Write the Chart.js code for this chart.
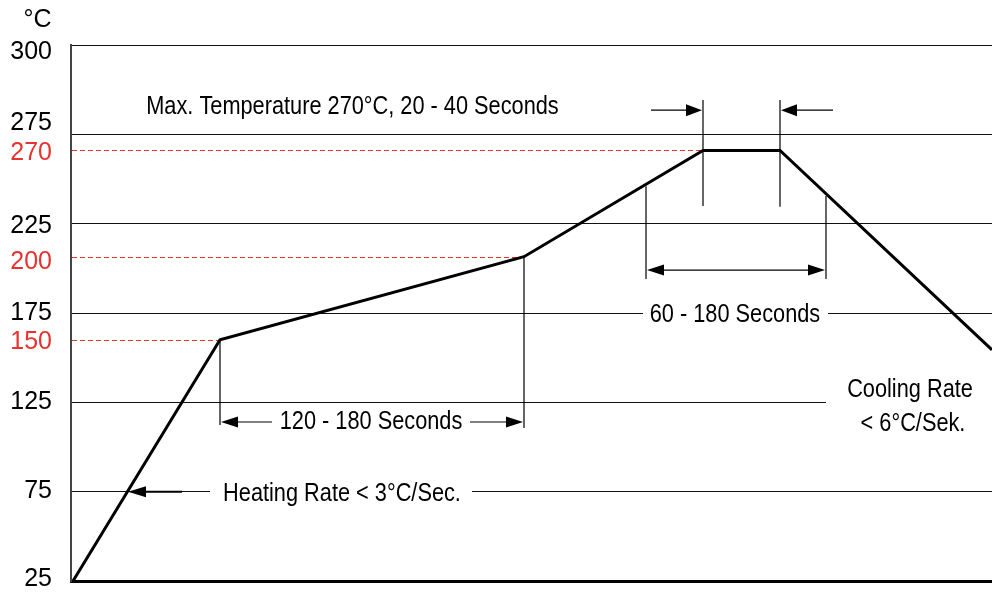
<!DOCTYPE html>
<html>
<head>
<meta charset="utf-8">
<script src="https://cdn.jsdelivr.net/npm/chart.js@4.4.1/dist/chart.umd.min.js"></script>
<style>
  html, body { margin: 0; padding: 0; background: #fff; }
  #wrap { width: 992px; height: 592px; position: relative; }
</style>
</head>
<body>
<div id="wrap"><canvas id="profileChart"></canvas></div>
<script>
// reflow profile, schematic (not to scale)
const times = [2, 149, 453, 632, 709, 921];
const temps = [25, 150, 200, 270, 270, 146];
const tickTemps = [25, 75, 125, 150, 175, 200, 225, 270, 275, 300];
const markTemps = [150, 200, 270];

// where a temperature sits on the drawing, in grid rows from the bottom
const rowTemps = [25, 75, 125, 150, 175, 200, 225, 270, 275, 300];
const rowPos = [0, 1, 2, 2.7, 3, 3.63, 4, 4.82, 5, 6];
const ROWS = 6;
// small vertical nudges of the tick labels, px
const labelShift = { 300: 7, 275: -11, 270: 3, 225: 2, 200: 5, 150: 2, 75: -1, 25: -2 };

const RED = '#e8322f';
const FONT = '"Liberation Sans", Arial, sans-serif';

function interp(v, xs, ys) {
  let i = 1;
  while (i < xs.length - 1 && v > xs[i]) i++;
  return ys[i - 1] + (v - xs[i - 1]) * (ys[i] - ys[i - 1]) / (xs[i] - xs[i - 1]);
}

class RowScale extends Chart.LinearScale {
  static id = 'rows';
  static defaults = Chart.LinearScale.defaults;
  buildTicks() { return tickTemps.map(v => ({ value: v })); }
  getPixelForValue(v) { return this.getPixelForDecimal(interp(v, rowTemps, rowPos) / ROWS); }
  getValueForPixel(p) { return interp(this.getDecimalForPixel(p) * ROWS, rowPos, rowTemps); }
  _computeLabelItems(area) {
    const items = super._computeLabelItems(area);
    items.forEach((item, i) => {
      const tick = this.ticks[i];
      if (tick && item.options && item.options.translation) {
        item.options.translation[1] += labelShift[tick.value] || 0;
      }
    });
    return items;
  }
}
Chart.register(RowScale);

function squeezed(ctx, text, cx, cy) {
  ctx.save();
  ctx.translate(cx, cy + 2);
  ctx.scale(0.87, 1);
  ctx.fillText(text, 0, 0);
  ctx.restore();
}

function head(ctx, tipX, y, dir, len, half) {
  ctx.beginPath();
  ctx.moveTo(tipX, y);
  ctx.lineTo(tipX - dir * len, y - half);
  ctx.lineTo(tipX - dir * len, y + half);
  ctx.closePath();
  ctx.fill();
}

function seg(ctx, x1, y1, x2, y2) {
  ctx.beginPath();
  ctx.moveTo(x1, y1);
  ctx.lineTo(x2, y2);
  ctx.stroke();
}

const annotations = {
  id: 'annotations',
  beforeDatasetsDraw(chart) {
    const { ctx, chartArea: a, scales: { x, y } } = chart;
    const ry = r => a.bottom - r * a.height / ROWS;
    ctx.save();
    // red guide lines
    ctx.strokeStyle = RED;
    ctx.lineWidth = 1;
    ctx.setLineDash([5, 3]);
    markTemps.forEach(v => {
      const py = Math.round(y.getPixelForValue(v)) + 0.5;
      seg(ctx, a.left + 1, py, x.getPixelForValue(times[temps.indexOf(v)]), py);
    });
    ctx.setLineDash([]);
    // gaps in grid lines for the labels
    ctx.fillStyle = '#fff';
    ctx.fillRect(x.getPixelForValue(572), ry(3) - 3, x.getPixelForValue(757) - x.getPixelForValue(572), 6);
    ctx.fillRect(x.getPixelForValue(139), ry(1) - 3, x.getPixelForValue(401) - x.getPixelForValue(139), 6);
    ctx.fillRect(x.getPixelForValue(755), ry(2) - 3, a.right - x.getPixelForValue(755), 6);
    ctx.restore();
  },
  afterDatasetsDraw(chart) {
    const { ctx, chartArea: a, scales: { x, y } } = chart;
    const ry = r => a.bottom - r * a.height / ROWS;
    const px = t => x.getPixelForValue(t);
    ctx.save();
    ctx.strokeStyle = '#000';
    ctx.fillStyle = '#000';
    ctx.lineWidth = 1.2;

    // soak window 120 - 180 s
    seg(ctx, px(149), y.getPixelForValue(150), px(149), ry(1.746));
    seg(ctx, px(453), y.getPixelForValue(200), px(453), ry(1.713));
    let ay = ry(1.78);
    seg(ctx, px(149) + 10, ay, px(201), ay);
    seg(ctx, px(399), ay, px(453) - 10, ay);
    head(ctx, px(149) + 1, ay, -1, 17, 5.5);
    head(ctx, px(453) - 1, ay, 1, 17, 5.5);

    // time above liquidus 60 - 180 s
    seg(ctx, px(575), ry(4.42), px(575), ry(3.38));
    seg(ctx, px(755), ry(4.31), px(755), ry(3.38));
    ay = ry(3.48);
    seg(ctx, px(575) + 10, ay, px(755) - 10, ay);
    head(ctx, px(575) + 1, ay, -1, 17, 5.5);
    head(ctx, px(755) - 1, ay, 1, 17, 5.5);

    // peak 20 - 40 s
    seg(ctx, px(632), ry(5.385), px(632), ry(4.198));
    seg(ctx, px(709), ry(5.385), px(709), ry(4.19));
    ay = ry(5.27);
    seg(ctx, px(580), ay, px(632) - 10, ay);
    seg(ctx, px(709) + 10, ay, px(762), ay);
    head(ctx, px(632) - 1, ay, 1, 16, 6);
    head(ctx, px(709) + 1, ay, -1, 16, 6);

    // heating rate pointer
    ctx.lineWidth = 2;
    ay = ry(1);
    seg(ctx, px(111), ay, px(57) + 10, ay);
    head(ctx, px(57), ay, -1, 18, 5.5);

    // labels
    ctx.font = '25px ' + FONT;
    ctx.textAlign = 'center';
    ctx.textBaseline = 'middle';
    squeezed(ctx, 'Max. Temperature 270°C, 20 - 40 Seconds', px(281.5), ry(5.33));
    squeezed(ctx, '120 - 180 Seconds', px(300), ry(1.8));
    squeezed(ctx, '60 - 180 Seconds', px(664), ry(3));
    squeezed(ctx, 'Heating Rate < 3°C/Sec.', px(271), ry(1));
    squeezed(ctx, 'Cooling Rate', px(839), ry(2.16));
    squeezed(ctx, '< 6°C/Sek.', px(842), ry(1.78));
    ctx.fillText('°C', 37.5, 20);
    ctx.restore();
  }
};

new Chart(document.getElementById('profileChart'), {
  type: 'line',
  data: {
    datasets: [{
      data: times.map((t, i) => ({ x: t, y: temps[i] })),
      borderColor: '#000',
      borderWidth: 3,
      pointRadius: 0,
      tension: 0,
      fill: false,
      borderJoinStyle: 'miter'
    }]
  },
  options: {
    responsive: true,
    maintainAspectRatio: false,
    animation: false,
    events: [],
    layout: { padding: { top: 45, right: 0, bottom: 0, left: 0 } },
    plugins: { legend: { display: false }, tooltip: { enabled: false } },
    scales: {
      x: {
        type: 'linear',
        min: 0,
        max: 921,
        ticks: { display: false },
        grid: { display: false },
        border: { display: true, color: '#000', width: 3 },
        afterFit: s => { s.height = 11; s.paddingLeft = 0; s.paddingRight = 0; }
      },
      y: {
        type: 'rows',
        min: 25,
        max: 300,
        ticks: {
          autoSkip: false,
          padding: 19,
          font: { size: 25, family: FONT },
          color: c => (c.tick && markTemps.includes(c.tick.value)) ? RED : '#000'
        },
        grid: {
          drawTicks: false,
          lineWidth: 1,
          color: c => (!c.tick || markTemps.includes(c.tick.value) || c.tick.value === 25) ? 'rgba(0,0,0,0)' : '#111'
        },
        border: { display: true, color: '#444', width: 2 },
        afterFit: s => { s.width = 71; s.paddingTop = 0; s.paddingBottom = 0; }
      }
    }
  },
  plugins: [annotations]
});
</script>
</body>
</html>
